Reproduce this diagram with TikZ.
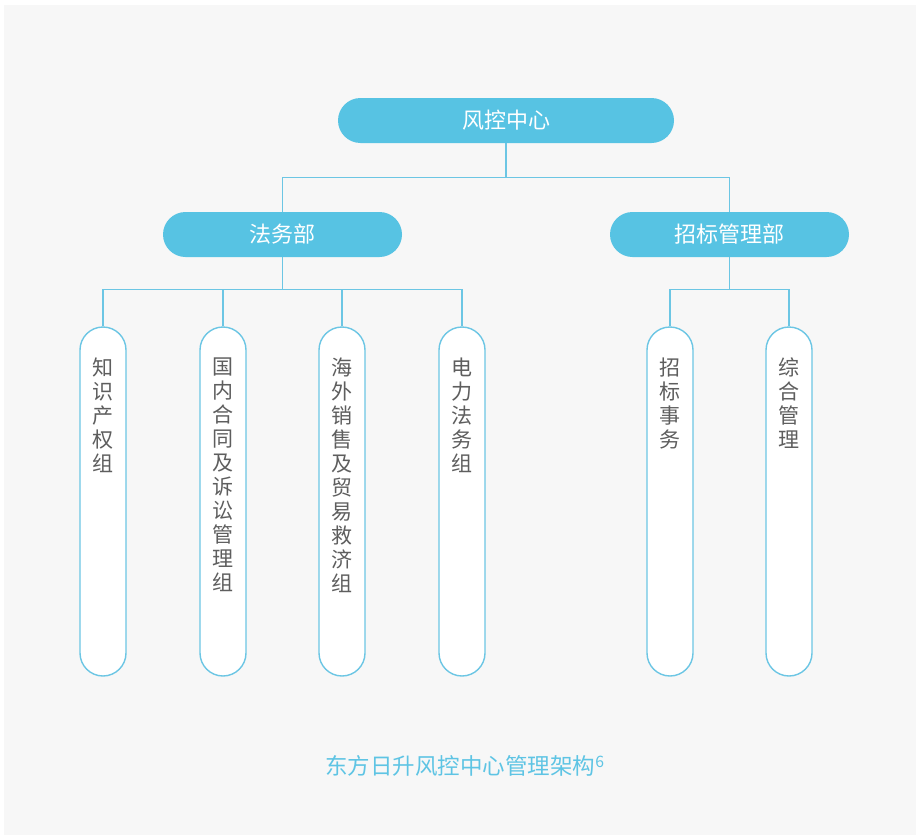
\documentclass[tikz,border=0pt]{standalone}
\usepackage{fontspec}
\newfontfamily\cjk{Noto Sans CJK SC}
\definecolor{bgc}{HTML}{F7F7F7}
\definecolor{boxblue}{HTML}{57C3E3}
\definecolor{linec}{HTML}{6CC6E4}
\definecolor{txtgray}{HTML}{5E5E5E}
\definecolor{capc}{HTML}{5EC4E4}
\begin{document}
\begin{tikzpicture}[x=1pt,y=-1pt,
  topbox/.style={fill=boxblue, draw=none, rounded corners=22.5pt, minimum width=336pt, minimum height=45pt, inner sep=0pt, text=white, font=\cjk\fontsize{22}{24}\selectfont},
  midbox/.style={topbox, minimum width=239pt},
  vbox/.style={draw=linec, line width=1.4pt, fill=white, rounded corners=23pt, minimum width=46pt, minimum height=349pt, inner sep=0pt},
  vtext/.style={anchor=north, align=center, inner sep=0pt, text=txtgray, font=\cjk\fontsize{21}{24}\selectfont},
  conn/.style={draw=linec, line width=1.3pt},
  captxt/.style={text=capc, font=\cjk\fontsize{22.5}{24}\selectfont, inner sep=0pt}
]
\useasboundingbox (0,0) rectangle (916,835);
\fill[bgc] (4,5) rectangle (916,835);

\node[topbox] (top) at (506,120.5) {风控中心};
\node[midbox] (fa) at (282.5,234.5) {法务部};
\node[midbox] (zb) at (729.5,234.5) {招标管理部};

\node[vbox] (v1) at (103,501.5) {};
\node[vbox] (v2) at (223,501.5) {};
\node[vbox] (v3) at (342,501.5) {};
\node[vbox] (v4) at (462,501.5) {};
\node[vbox] (v5) at (670,501.5) {};
\node[vbox] (v6) at (789,501.5) {};

\node[vtext] (t1) at ([yshift=-31pt]v1.north) {知\\识\\产\\权\\组};
\node[vtext] (t2) at ([yshift=-31pt]v2.north) {国\\内\\合\\同\\及\\诉\\讼\\管\\理\\组};
\node[vtext] (t3) at ([yshift=-31pt]v3.north) {海\\外\\销\\售\\及\\贸\\易\\救\\济\\组};
\node[vtext] (t4) at ([yshift=-31pt]v4.north) {电\\力\\法\\务\\组};
\node[vtext] (t5) at ([yshift=-31pt]v5.north) {招\\标\\事\\务};
\node[vtext] (t6) at ([yshift=-31pt]v6.north) {综\\合\\管\\理};

\draw[conn] (top.south) -- ++(0,35);
\draw[conn] (fa.north) -- ++(0,-34) -| (zb.north);
\draw[conn] (fa.south) -- ++(0,33);
\draw[conn] (v1.north) -- ++(0,-37) -| (v4.north);
\draw[conn] (v2.north) -- ++(0,-37);
\draw[conn] (v3.north) -- ++(0,-37);
\draw[conn] (zb.south) -- ++(0,33);
\draw[conn] (v5.north) -- ++(0,-37) -| (v6.north);

\node[captxt] (cap) at (465,766) {东方日升风控中心管理架构\textsuperscript{6}};
\end{tikzpicture}
\end{document}
